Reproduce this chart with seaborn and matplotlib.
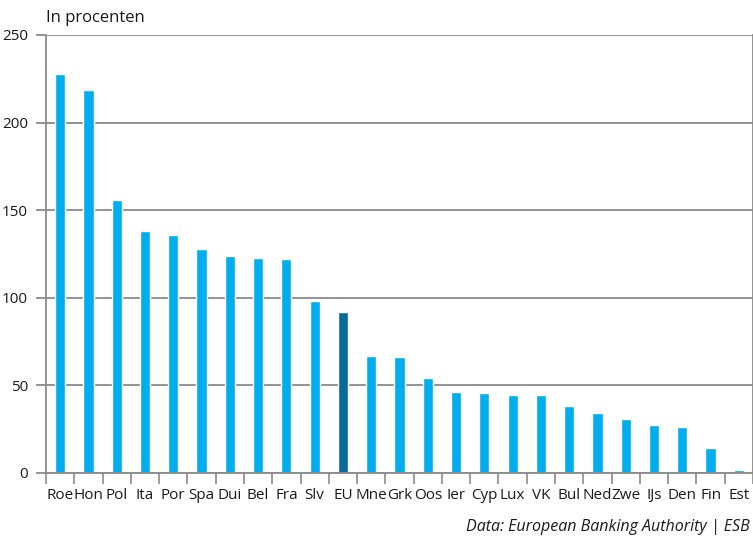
import matplotlib
matplotlib.use("Agg")
import matplotlib.pyplot as plt
import seaborn as sns
import pandas as pd

# Country abbreviations and values (in percent)
countries = ["Roe", "Hon", "Pol", "Ita", "Por", "Spa", "Dui", "Bel", "Fra", "Slv",
             "EU", "Mne", "Grk", "Oos", "Ier", "Cyp", "Lux", "VK", "Bul", "Ned",
             "Zwe", "IJs", "Den", "Fin", "Est"]
values = [228, 218.5, 156, 138, 136, 128, 124, 123, 122, 98,
          92, 67, 66, 54, 46.5, 45.5, 44.3, 44.3, 38, 34,
          31, 27.6, 26, 14.3, 1.5]

highlight = "EU"
light_blue = "#00AEEF"
dark_blue = "#076A9B"
grid_grey = "#8a8a8a"

df = pd.DataFrame({"land": countries, "waarde": values})
palette = {c: (dark_blue if c == highlight else light_blue) for c in countries}

sns.set_theme(style="white")
plt.rcParams["font.family"] = ["Open Sans", "DejaVu Sans"]

fig = plt.figure(figsize=(7.53, 5.38), dpi=100)
ax = fig.add_axes([46 / 753, 65 / 538, 707 / 753, 438 / 538])

sns.barplot(data=df, x="land", y="waarde", hue="land", palette=palette,
            width=0.36, legend=False, ax=ax, saturation=1)

ax.set_ylim(0, 250)
ax.set_xlim(-0.5, len(countries) - 0.5)
ax.set_yticks([0, 50, 100, 150, 200, 250])
ax.yaxis.grid(True, color=grid_grey, linewidth=1.3)
ax.set_axisbelow(True)

# category ticks sit on the boundaries between bars
ax.set_xticks([i + 0.5 for i in range(-1, len(countries))], minor=False)
ax.set_xticklabels([])
ax.set_xticks(range(len(countries)), minor=True)
ax.set_xticklabels(countries, minor=True)
ax.tick_params(axis="x", which="major", direction="out", length=8, width=1.2,
               color=grid_grey, bottom=True)
ax.tick_params(axis="x", which="minor", length=0, pad=11, labelsize=11,
               labelcolor="#1a1a1a")
ax.tick_params(axis="y", direction="out", length=7, width=1.3, color=grid_grey,
               left=True, labelsize=11, labelcolor="#1a1a1a", pad=6)

for side in ["left", "bottom", "right", "top"]:
    ax.spines[side].set_color(grid_grey)
    ax.spines[side].set_linewidth(1.3)
ax.spines["top"].set_visible(False)

ax.set_xlabel("")
ax.set_ylabel("")

fig.text(46 / 753, 1 - 18 / 538, "In procenten", fontsize=12, color="#1a1a1a",
         ha="left", va="center")
fig.text(750 / 753, 1 - 527 / 538, "Data: European Banking Authority | ESB",
         fontsize=11.5, style="italic", color="#1a1a1a", ha="right", va="center")

fig.savefig("out.png", dpi=100)
